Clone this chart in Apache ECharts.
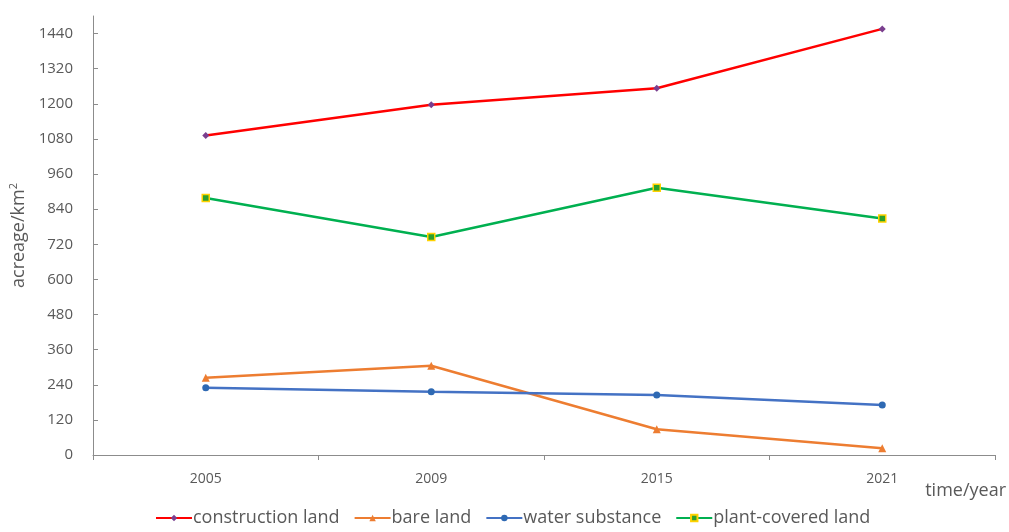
<!DOCTYPE html>
<html>
<head>
<meta charset="utf-8">
<script src="https://cdn.jsdelivr.net/npm/echarts@6/dist/echarts.min.js"></script>
<style>
  html, body { margin: 0; padding: 0; background: #fff; }
  #chart { width: 1009px; height: 532px; }
</style>
</head>
<body>
<div id="chart"></div>
<script>
// Land-use acreage by survey year (km²)
const years = ['2005', '2009', '2015', '2021'];
const constructionLand = [1092, 1197, 1253, 1456];
const bareLand = [264, 305, 88, 23];
const waterSubstance = [230, 216, 205, 171];
const plantCoveredLand = [878, 745, 913, 808];

const font = 'Open Sans, Noto Sans, sans-serif';
const axisGray = '#8c8c8c';
const textGray = '#595959';

function lineSeries(name, data, color, symbol, size, markerColor, markerBorder) {
  return {
    name: name,
    type: 'line',
    data: data,
    symbol: symbol,
    symbolSize: size,
    showAllSymbol: true,
    lineStyle: { color: color, width: 2.5 },
    itemStyle: {
      color: markerColor || color,
      borderColor: markerBorder || markerColor || color,
      borderWidth: markerBorder ? 1.5 : 0
    },
    emphasis: { disabled: true },
    animation: false
  };
}

const chart = echarts.init(document.getElementById('chart'), null, { renderer: 'canvas' });
chart.setOption({
  animation: false,
  color: ['#ff0000', '#ed7d31', '#4472c4', '#00b050'],
  grid: { left: 93, right: 12, top: 16, bottom: 77, containLabel: false },
  legend: {
    bottom: 0,
    left: 150,
    itemWidth: 36,
    itemHeight: 8,
    itemGap: 14,
    textStyle: { color: textGray, fontSize: 18, fontFamily: font, padding: [0, 0, 0, -4] },
    data: ['construction land', 'bare land', 'water substance', 'plant-covered land']
  },
  xAxis: {
    type: 'category',
    data: years,
    boundaryGap: true,
    name: 'time/year',
    nameLocation: 'end',
    nameGap: 11,
    nameTextStyle: {
      color: textGray, fontSize: 18, fontFamily: font,
      align: 'right', verticalAlign: 'top', padding: [27, 0, 0, 0]
    },
    axisLine: { lineStyle: { color: axisGray, width: 1 } },
    axisTick: { show: true, inside: false, length: 5, lineStyle: { color: axisGray } },
    axisLabel: { color: textGray, fontSize: 14, fontFamily: font, margin: 17 },
    splitLine: { show: false }
  },
  yAxis: {
    type: 'value',
    min: 0,
    max: 1500,
    interval: 120,
    name: 'acreage/km{sup|2}',
    nameLocation: 'middle',
    nameGap: 60,
    nameRotate: 90,
    nameTextStyle: {
      color: textGray, fontSize: 18, fontFamily: font,
      rich: { sup: { fontSize: 11, verticalAlign: 'top', padding: [0, 0, 9, 0], color: textGray, fontFamily: font } }
    },
    axisLine: { show: true, lineStyle: { color: axisGray, width: 1 } },
    axisTick: { show: true, inside: true, length: 5, lineStyle: { color: axisGray } },
    axisLabel: {
      color: textGray, fontSize: 15, fontFamily: font, margin: 20, showMaxLabel: false,
      formatter: function (v) { return String(v); }
    },
    splitLine: { show: false }
  },
  series: [
    lineSeries('construction land', constructionLand, '#ff0000', 'diamond', 7, '#7a3f8f'),
    lineSeries('bare land', bareLand, '#ed7d31', 'triangle', 8),
    lineSeries('water substance', waterSubstance, '#4472c4', 'circle', 7, '#2e69b3'),
    lineSeries('plant-covered land', plantCoveredLand, '#00b050', 'rect', 7, '#2ca02c', '#ffd200')
  ]
});
</script>
</body>
</html>
